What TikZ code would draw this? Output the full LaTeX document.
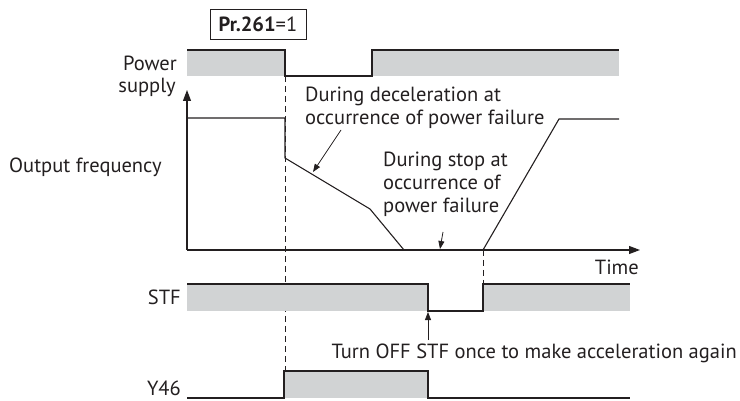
\documentclass[tikz,border=0pt]{standalone}
\usepackage{fontspec}
\setmainfont{PT Sans}
\usetikzlibrary{arrows.meta}
\definecolor{lc}{RGB}{35,31,32}
\definecolor{sig}{RGB}{209,211,212}
\begin{document}
\begin{tikzpicture}[x=1pt,y=-1pt,
  lbl/.style={inner sep=0pt,font=\fontsize{20.5}{23}\selectfont,text=lc},
  wave/.style={draw=lc,line width=1.1pt},
  band/.style={fill=sig},
  guide/.style={draw=lc,line width=0.8pt,dash pattern=on 6pt off 4pt},
  callout/.style={draw=lc,line width=0.8pt,-{Triangle[length=8pt,width=6pt]}},
  axisarrow/.style={draw=lc,line width=1.1pt,-{Triangle[length=11pt,width=8pt]}}]
\useasboundingbox (0,0) rectangle (740,401);
% parameter box
\draw[lc,line width=0.8pt] (210,9) rectangle (306,39);
\node[lbl,anchor=base] (pr) at (258,32) {\textbf{Pr.261}=1};
% Power supply
\node[lbl,anchor=base east] (ps1) at (177,71) {Power};
\node[lbl,anchor=base east] (ps2) at (176,93) {supply};
\fill[band] (187,50) rectangle (285,76);
\fill[band] (372,50) rectangle (619,76);
\draw[wave] (187,50) -- (285,50) -- (285,76) -- (372,76) -- (372,50) -- (619,50);
% dashed guides
\coordinate (g1t) at (285,76);
\coordinate (g1b) at (285,371);
\coordinate (g2t) at (483,250);
\coordinate (g2b) at (483,284);
\draw[guide] (g1t) -- (g1b);
\draw[guide] (g2t) -- (g2b);
% Output frequency axes
\node[lbl,anchor=base west] (of) at (9,173) {Output frequency};
\coordinate (o) at (187,250);
\coordinate (ytop) at (187,90);
\coordinate (xend) at (640,250);
\draw[axisarrow] (o) -- (ytop);
\draw[axisarrow] (o) -- (xend);
\node[lbl,anchor=base east] (time) at (639,275) {Time};
\draw[wave] (187,118) -- (285,118) -- (285,158) -- (370,209) -- (404,250);
\draw[wave] (483,250) -- (559,119) -- (619,119);
% callouts
\node[lbl,anchor=base west] (dec1) at (305,102) {During deceleration at};
\node[lbl,anchor=base west] (dec2) at (305,125) {occurrence of power failure};
\node[lbl,anchor=base west] (stop1) at (383,167) {During stop at};
\node[lbl,anchor=base west] (stop2) at (383,190) {occurrence of};
\node[lbl,anchor=base west] (stop3) at (383,213) {power failure};
\coordinate (a1s) at (341,130);
\coordinate (a1e) at (313,172);
\draw[callout] (a1s) -- (a1e);
\coordinate (a2s) at (443,232);
\coordinate (a2e) at (440,249);
\draw[callout] (a2s) -- (a2e);
% STF
\node[lbl,anchor=base east] (stf) at (181,305) {STF};
\fill[band] (187,284) rectangle (428,311);
\fill[band] (483,284) rectangle (630,311);
\draw[wave] (187,284) -- (428,284) -- (428,311) -- (483,311) -- (483,284) -- (630,284);
\node[lbl,anchor=base east] (turn) at (737,358) {Turn OFF STF once to make acceleration again};
\coordinate (a3s) at (428,340);
\coordinate (a3e) at (428,312);
\draw[callout] (a3s) -- (a3e);
% Y46
\node[lbl,anchor=base east] (y46) at (181,395) {Y46};
\fill[band] (284,371) rectangle (428,398);
\draw[wave] (187,398) -- (284,398) -- (284,371) -- (428,371) -- (428,398) -- (630,398);
\end{tikzpicture}
\end{document}
